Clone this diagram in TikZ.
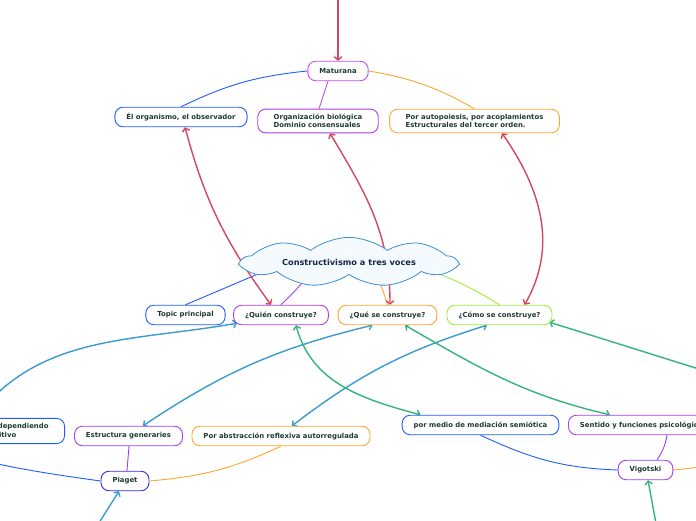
\documentclass[tikz,border=0pt]{standalone}
\usepackage{fontspec}
\setsansfont{DejaVu Sans}
\usetikzlibrary{arrows.meta,positioning,shapes.symbols,backgrounds}
\definecolor{mm-text}{HTML}{1F3B2F}
\definecolor{mm-navy}{HTML}{16264A}
\definecolor{mm-cloud}{HTML}{3A8FD3}
\definecolor{mm-cloudfill}{HTML}{F5FAFF}
\definecolor{mm-blue}{HTML}{1F5BFF}
\definecolor{mm-purple}{HTML}{A83CF0}
\definecolor{mm-magenta}{HTML}{C94BEE}
\definecolor{mm-indigo}{HTML}{3A2BE0}
\definecolor{mm-orange}{HTML}{FFA630}
\definecolor{mm-lime}{HTML}{9BEE3A}
\definecolor{mm-red}{HTML}{D4475F}
\definecolor{mm-teal}{HTML}{3A9BCF}
\definecolor{mm-green}{HTML}{35B47A}

\begin{document}
\begin{tikzpicture}[x=1pt, y=1pt,
  >={Straight Barb[length=3.2pt,width=7.5pt]},
  box/.style={draw, line width=0.9pt, rounded corners=8pt, fill=white, minimum height=19.5pt, inner xsep=11.5pt, inner ysep=5pt, align=left, text=mm-text, font=\sffamily\bfseries\fontsize{6.9}{8.2}\selectfont},
  wide/.style={inner xsep=16pt},
  title/.style={cloud, cloud puffs=9, cloud puff arc=75, aspect=6.5, draw=mm-cloud, fill=mm-cloudfill, line width=0.8pt, minimum width=214pt, minimum height=32pt, inner sep=0pt, text=mm-navy, font=\sffamily\bfseries\fontsize{8.2}{10}\selectfont},
  link/.style={line width=0.9pt},
  rel/.style={line width=1.4pt, <->},
  relto/.style={line width=1.4pt, ->}
]
  \useasboundingbox (0,0) rectangle (696,520);
  \clip (0,0) rectangle (696,520);

  % central topic and first row
  \node[title] (cloud) at (349,258) {Constructivismo a tres voces};
  \node[box, draw=mm-blue] (topic) at (185.5,205) {Topic principal};
  \node[box, draw=mm-purple] (quien) at (281,205) {¿Quién construye?};
  \node[box, draw=mm-orange] (que) at (387.5,205) {¿Qué se construye?};
  \node[box, draw=mm-lime] (como) at (499.5,205) {¿Cómo se construye?};

  % Maturana
  \node[box, draw=mm-magenta] (mat) at (338,449) {Maturana};
  \node[box, draw=mm-blue] (elorg) at (181,403) {Él organismo, el observador};
  \node[box, wide, draw=mm-purple] (org) at (318,399) {Organización biológica\\Dominio consensuales};
  \node[box, wide, draw=mm-orange] (auto) at (474.5,399) {Por autopoiesis, por acoplamientos\\Estructurales del tercer orden.};

  % Piaget
  \node[box, wide, draw=mm-blue, anchor=east] (desarr) at (65,89) {Construcción dependiendo\\del nivel cognitivo};
  \node[box, draw=mm-purple] (estr) at (128.5,84) {Estructura generaries};
  \node[box, draw=mm-orange] (abstr) at (281,84) {Por abstracción reflexiva autorregulada};
  \node[box, draw=mm-indigo] (piaget) at (125,39) {Piaget};

  % Vigotski
  \node[box, draw=mm-blue] (medio) at (480.5,95) {por medio de mediación semiótica};
  \node[box, draw=mm-purple, anchor=west] (sentido) at (568,95) {Sentido y funciones psicológicas};
  \node[box, draw=mm-purple] (vig) at (645.5,50) {Vigotski};

  % ends that lie outside the page
  \coordinate (topsrc) at (338,560);
  \coordinate (leftsrc) at (-30,95);
  \coordinate (rightsrc) at (750,135);
  \coordinate (piasrc) at (85,-25);
  \coordinate (vigsrc) at (660,-25);
  \coordinate (vigout) at (760,70);
  \coordinate (piaout) at (-60,70);

  \begin{scope}[on background layer]
    \fill[white] (0,0) rectangle (696,520);
    % branches
    \draw[link, mm-blue] (mat.west) to[bend right=10] (elorg.north);
    \draw[link, mm-magenta] ([xshift=-10pt]mat.south) -- ([xshift=1pt]org.north);
    \draw[link, mm-orange] (mat.east) to[bend left=10] (auto.north);
    \draw[link, mm-blue] (272,252) -- (topic.north);
    \draw[link, mm-purple] (312,250) to[bend left=5] (quien.north);
    \draw[link, mm-orange] (375,247) to[bend left=5] (que.north);
    \draw[link, mm-lime] (432,249) to[bend left=5] (como.north);
    \draw[link, mm-blue] (piaget.west) to[out=172, in=-15] (piaout);
    \draw[link, mm-purple] ([xshift=2pt]piaget.north) -- ([xshift=0.5pt]estr.south);
    \draw[link, mm-orange] (piaget.east) to[out=5, in=205] (abstr.south);
    \draw[link, mm-blue] (vig.west) to[out=178, in=-25] (medio.south);
    \draw[link, mm-purple] ([xshift=11.5pt]vig.north) to[bend right=12] ([xshift=99pt]sentido.south west);
    \draw[link, mm-orange] (vig.east) to[out=5, in=200] (vigout);
    % relations
    \draw[relto, mm-red] (topsrc) -- (mat.north);
    \draw[rel, mm-red] ([xshift=4pt]elorg.south) to[out=-75, in=126] ([xshift=-10pt]quien.north);
    \draw[rel, mm-red] ([xshift=12pt]org.south) to[out=-59, in=90] ([xshift=2.5pt]que.north);
    \draw[rel, mm-red] ([xshift=27.5pt]auto.south) to[out=-55, in=60] ([xshift=25pt]como.north);
    \draw[relto, mm-teal] (leftsrc) to[out=55, in=190] ([shift={(4pt,2pt)}]quien.south west);
    \draw[rel, mm-teal] ([xshift=-15pt]que.south) to[bend right=10] ([xshift=14.5pt]estr.north);
    \draw[rel, mm-teal] ([xshift=-12.5pt]como.south) to[bend right=10] ([xshift=11pt]abstr.north);
    \draw[relto, mm-teal] (piasrc) -- ([xshift=-6pt]piaget.south);
    \draw[rel, mm-green] ([xshift=15pt]quien.south) to[out=-75, in=165] ([xshift=-60pt]medio.north);
    \draw[rel, mm-green] ([xshift=17.5pt]que.south) to[out=-30, in=167] ([xshift=42pt]sentido.north west);
    \draw[relto, mm-green] (rightsrc) -- ([shift={(-3pt,3pt)}]como.south east);
    \draw[relto, mm-green] (vigsrc) -- ([xshift=2.5pt]vig.south);
  \end{scope}
\end{tikzpicture}
\end{document}
